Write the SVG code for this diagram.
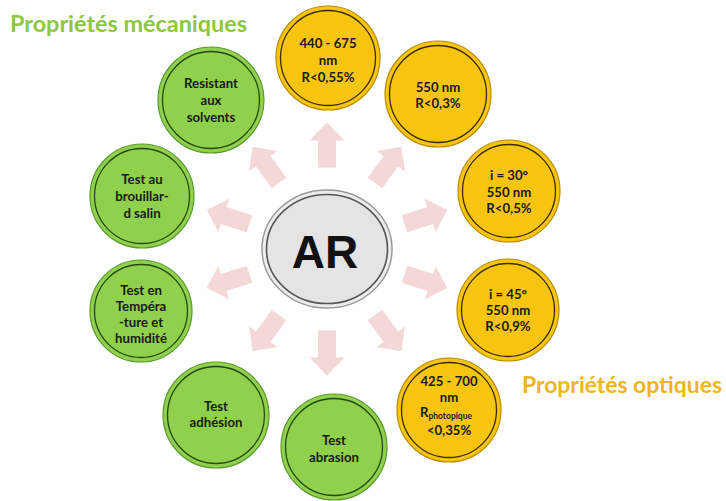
<svg xmlns="http://www.w3.org/2000/svg" width="726" height="501" viewBox="0 0 726 501">
<style>
.y{fill:#F7C50F;stroke:#B98C00;stroke-width:1.2}
.yi{fill:#F7C50F;stroke:#3A2A00;stroke-width:1.3}
.g{fill:#8FD04C;stroke:#5A9A2A;stroke-width:1.2}
.gi{fill:#8FD04C;stroke:#234A10;stroke-width:1.3}
.t{font-family:Lato,"Open Sans","Liberation Sans",sans-serif;font-weight:700;font-size:13.2px;fill:#1a1a1a;text-anchor:middle}
.arr{fill:#F2D0D0;opacity:0.85}
.title{font-family:Lato,"Open Sans","Liberation Sans",sans-serif;font-weight:700;font-size:23px}
</style>
<defs>
<path id="a" d="M0,-22.5 L17.5,-4.5 L9,-4.5 L9,22.5 L-9,22.5 L-9,-4.5 L-17.5,-4.5 Z"/>
</defs>
<rect width="726" height="501" fill="#ffffff"/>
<g id="connectors">
<use href="#a" class="arr" transform="translate(327,249) rotate(0) translate(0,-104)"/>
<use href="#a" class="arr" transform="translate(327,249) rotate(36) translate(0,-104)"/>
<use href="#a" class="arr" transform="translate(327,249) rotate(72) translate(0,-104)"/>
<use href="#a" class="arr" transform="translate(327,249) rotate(108) translate(0,-104)"/>
<use href="#a" class="arr" transform="translate(327,249) rotate(144) translate(0,-104)"/>
<use href="#a" class="arr" transform="translate(327,249) rotate(180) translate(0,-104)"/>
<use href="#a" class="arr" transform="translate(327,249) rotate(216) translate(0,-104)"/>
<use href="#a" class="arr" transform="translate(327,249) rotate(252) translate(0,-104)"/>
<use href="#a" class="arr" transform="translate(327,249) rotate(288) translate(0,-104)"/>
<use href="#a" class="arr" transform="translate(327,249) rotate(324) translate(0,-104)"/>
</g>
<g id="title-meca"><text class="title" x="10" y="32" fill="#8DC641" textLength="237" lengthAdjust="spacingAndGlyphs">Propriétés mécaniques</text></g>
<g id="title-opt"><text class="title" x="522" y="393" fill="#EFB422" textLength="200" lengthAdjust="spacingAndGlyphs">Propriétés optiques</text></g>
<g id="center">
<ellipse cx="327" cy="249" rx="65" ry="59" fill="#ececec" stroke="#9a9a9a" stroke-width="1.5"/>
<ellipse cx="327" cy="249" rx="60.5" ry="54.5" fill="#e4e4e4" stroke="#555" stroke-width="1.6"/>
<text x="325" y="268" font-family="'Liberation Sans',Arial,sans-serif" font-weight="700" font-size="46" text-anchor="middle" fill="#111">AR</text>
</g>
<g id="o1">
<circle class="y" cx="328" cy="58" r="52"/><circle class="yi" cx="328" cy="58" r="47.5"/>
<text class="t" x="328" y="48">440 - 675</text><text class="t" x="328" y="65">nm</text><text class="t" x="328" y="82">R&lt;0,55%</text>
</g>
<g id="o2">
<circle class="y" cx="438" cy="94" r="53"/><circle class="yi" cx="438" cy="94" r="48.5"/>
<text class="t" x="438" y="92">550 nm</text><text class="t" x="438" y="108">R&lt;0,3%</text>
</g>
<g id="o3">
<circle class="y" cx="509" cy="191" r="51"/><circle class="yi" cx="509" cy="191" r="46.5"/>
<text class="t" x="509" y="180">i = 30°</text><text class="t" x="509" y="197">550 nm</text><text class="t" x="509" y="213">R&lt;0,5%</text>
</g>
<g id="o4">
<circle class="y" cx="508" cy="310" r="51"/><circle class="yi" cx="508" cy="310" r="46.5"/>
<text class="t" x="508" y="299">i = 45°</text><text class="t" x="508" y="315">550 nm</text><text class="t" x="508" y="331">R&lt;0,9%</text>
</g>
<g id="o5">
<circle class="y" cx="449" cy="410" r="52"/><circle class="yi" cx="449" cy="410" r="47.5"/>
<text class="t" x="449" y="386">425 - 700</text><text class="t" x="449" y="402">nm</text>
<text class="t" x="446" y="417">R<tspan font-size="8.5" dy="2">photopique</tspan></text>
<text class="t" x="449" y="435">&lt;0,35%</text>
</g>
<g id="m1">
<circle class="g" cx="334" cy="447" r="53"/><circle class="gi" cx="334" cy="447" r="48.5"/>
<text class="t" x="334" y="445">Test</text><text class="t" x="334" y="462">abrasion</text>
</g>
<g id="m2">
<circle class="g" cx="216" cy="415" r="53"/><circle class="gi" cx="216" cy="415" r="48.5"/>
<text class="t" x="216" y="411">Test</text><text class="t" x="216" y="427">adhésion</text>
</g>
<g id="m3">
<circle class="g" cx="141" cy="311" r="51"/><circle class="gi" cx="141" cy="311" r="46.5"/>
<text class="t" x="141" y="295">Test en</text><text class="t" x="141" y="311">Tempéra</text><text class="t" x="141" y="327">-ture et</text><text class="t" x="141" y="343">humidité</text>
</g>
<g id="m4">
<circle class="g" cx="142" cy="196" r="52"/><circle class="gi" cx="142" cy="196" r="47.5"/>
<text class="t" x="142" y="184">Test au</text><text class="t" x="142" y="201">brouillar-</text><text class="t" x="142" y="218">d salin</text>
</g>
<g id="m5">
<circle class="g" cx="211" cy="100" r="53"/><circle class="gi" cx="211" cy="100" r="48.5"/>
<text class="t" x="211" y="88">Resistant</text><text class="t" x="211" y="105">aux</text><text class="t" x="211" y="122">solvents</text>
</g>
</svg>
